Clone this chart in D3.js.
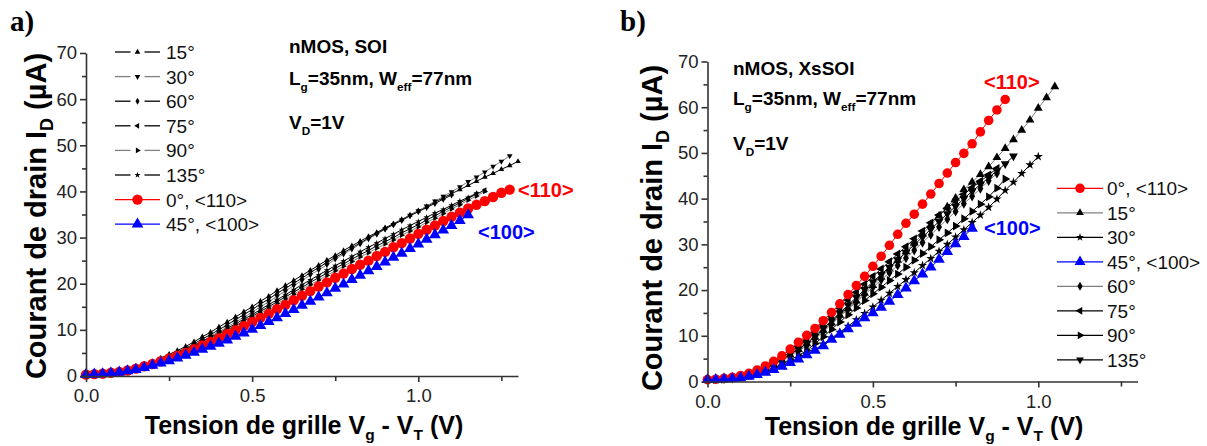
<!DOCTYPE html>
<html><head><meta charset="utf-8">
<script src="https://cdn.jsdelivr.net/npm/d3@7"></script>
<style>
body{margin:0;background:#fff;}
svg{display:block;background:#fff;}
</style></head>
<body><svg id="chart" width="1207" height="446"></svg>
<script>
// ---------------- DATA ----------------
const STEP = 0.025; // V spacing of measured points (Vg - VT), starting at 0

// Panel a) SOI
const a_0deg   = [0.3,0.4,0.5,0.7,0.9,1.2,1.6,2.1,2.6,3.2,3.8,4.4,5.0,5.8,6.6,7.4,8.2,9.1,9.9,10.8,11.7,12.6,13.5,14.5,15.4,16.4,17.4,18.4,19.4,20.3,21.3,22.2,23.2,24.1,25.0,26.0,26.9,27.9,28.8,29.8,30.8,31.7,32.6,33.6,34.5,35.4,36.3,37.1,37.9,38.8,39.7,40.4];
const a_45deg  = [0.3,0.35,0.45,0.6,0.8,1.1,1.4,1.8,2.3,2.8,3.3,3.9,4.5,5.1,5.8,6.4,7.1,7.8,8.6,9.3,10.1,10.9,11.8,12.6,13.5,14.4,15.3,16.2,17.1,18.0,19.0,19.9,20.9,21.8,22.8,23.7,24.7,25.7,26.6,27.6,28.6,29.6,30.6,31.6,32.6,33.7,34.9];
const a_15deg  = [0.3,0.4,0.5,0.7,1.0,1.4,1.9,2.5,3.1,3.9,4.7,5.5,6.4,7.4,8.5,9.5,10.6,11.7,12.8,13.9,15.0,16.2,17.3,18.5,19.6,20.7,21.8,22.9,24.0,25.1,26.1,27.2,28.2,29.2,30.2,31.1,32.1,33.0,33.9,34.9,35.8,36.7,37.7,38.6,39.5,40.4,41.3,42.2,43.1,43.9,44.8,45.6,46.5];
const a_30deg  = [0.3,0.4,0.5,0.7,0.9,1.3,1.7,2.2,2.8,3.5,4.2,5.0,5.8,6.7,7.6,8.6,9.6,10.6,11.7,12.7,13.8,15.0,16.1,17.3,18.4,19.6,20.7,21.9,23.0,24.1,25.3,26.4,27.5,28.6,29.7,30.7,31.8,32.8,33.8,34.8,35.8,36.8,37.9,38.9,39.9,41.0,42.1,43.1,44.2,45.4,46.5,47.7];
const a_60deg  = [0.3,0.4,0.5,0.7,0.9,1.3,1.8,2.3,2.9,3.6,4.4,5.2,6.0,7.0,8.0,9.0,10.0,11.1,12.2,13.3,14.4,15.6,16.7,17.9,19.0,20.1,21.2,22.4,23.5,24.6,25.7,26.7,27.8,28.8,29.9,30.9,31.9,32.8,33.7,34.7,35.6,36.5,37.4,38.3,39.2];
const a_75deg  = [0.3,0.4,0.5,0.7,0.9,1.3,1.7,2.2,2.7,3.4,4.1,4.8,5.5,6.4,7.2,8.1,9.0,10.0,10.9,11.9,12.9,14.0,15.0,16.1,17.1,18.2,19.2,20.3,21.3,22.3,23.3,24.3,25.3,26.3,27.2,28.2,29.1,30.0,31.0,31.9,32.8,33.8,34.7,35.7,36.6,37.5,38.5,39.4,40.3];
const a_90deg  = [0.3,0.4,0.5,0.7,0.9,1.2,1.6,2.1,2.7,3.3,4.0,4.7,5.4,6.2,7.0,7.9,8.8,9.7,10.7,11.6,12.6,13.6,14.7,15.7,16.7,17.7,18.8,19.8,20.8,21.8,22.8,23.8,24.8,25.8,26.7,27.7,28.6,29.5,30.5,31.4,32.3,33.3,34.2,35.2,36.2,37.1,38.1,39.0,40.0];
const a_135deg = [0.3,0.4,0.5,0.7,0.9,1.3,1.7,2.2,2.8,3.5,4.2,4.9,5.7,6.6,7.5,8.4,9.3,10.3,11.3,12.3,13.3,14.4,15.5,16.5,17.6,18.7,19.8,20.8,21.9,22.9,23.9,24.9,25.9,26.9,27.9,28.8,29.8,30.7,31.7,32.6,33.5,34.4,35.3,36.1,37.0,37.9,38.7,39.6];

// Panel b) XsSOI
const b_0deg   = [0.4,0.5,0.7,0.9,1.3,1.8,2.5,3.4,4.4,5.6,7.1,8.6,10.1,11.6,13.3,15.1,17.0,19.0,21.0,23.0,25.2,27.4,29.8,32.2,34.6,36.6,38.8,41.0,43.3,45.6,47.9,49.9,52.0,54.6,57.1,59.4,61.7];
const b_15deg  = [0.4,0.5,0.6,0.8,1.1,1.5,2.1,2.8,3.7,4.7,5.8,7.0,8.3,9.7,11.2,12.8,14.5,16.0,17.6,19.3,21.0,22.8,24.6,26.5,28.4,30.3,32.2,34.2,36.2,38.2,40.1,42.0,43.6,45.3,47.0,49.0,51.0,52.9,55.0,57.2,59.8,62.1,64.5];
const b_30deg  = [0.4,0.4,0.5,0.6,0.8,1.1,1.5,2.1,2.7,3.4,4.2,5.0,5.9,7.0,8.2,9.5,10.8,12.1,13.5,14.9,16.3,17.8,19.3,20.8,22.3,23.8,25.4,26.9,28.5,30.0,31.6,33.2,34.8,36.4,38.1,39.9,41.8,43.6,45.5,47.4,49.2];
const b_45deg  = [0.4,0.4,0.5,0.6,0.8,1.1,1.5,2.0,2.6,3.3,4.1,4.9,5.8,6.8,7.8,9.2,10.3,11.5,12.7,13.9,15.0,16.2,17.5,19.0,20.4,22.0,23.5,25.0,26.7,28.4,30.1,31.7,33.5];
const b_60deg  = [0.4,0.5,0.6,0.7,1.0,1.4,1.9,2.6,3.5,4.5,5.6,6.7,7.8,9.3,10.9,12.5,14.2,15.8,17.4,19.0,20.6,22.2,23.8,25.4,27.0,28.7,30.4,32.1,33.8,35.5,37.2,38.9,40.5,42.2,43.9,45.5];
const b_75deg  = [0.4,0.5,0.6,0.8,1.2,1.7,2.4,3.2,4.1,5.2,6.4,7.7,9.0,10.7,12.4,14.2,16.0,17.8,19.5,21.3,23.0,24.6,26.2,27.9,29.5,31.2,32.9,34.7,36.4,37.9,39.4,40.9,42.4,43.8,45.2,46.6];
const b_90deg  = [0.4,0.4,0.5,0.7,0.9,1.3,1.8,2.4,3.0,3.8,4.7,5.7,6.8,8.3,9.8,11.4,13.0,14.6,16.1,17.7,19.2,20.6,22.1,23.5,25.0,26.5,28.0,29.5,31.0,32.5,34.0,35.6,37.2,38.8,40.4,42.3,44.3];
const b_135deg = [0.4,0.5,0.6,0.8,1.1,1.5,2.1,2.9,3.8,4.9,6.0,7.1,8.3,9.9,11.6,13.3,15.0,16.7,18.4,20.1,21.8,23.4,25.0,26.6,28.2,29.9,31.6,33.3,35.0,36.7,38.3,40.0,41.6,43.1,44.6,46.1,47.6,49.3];

// Axis ticks
const xMajorTicks = [0, 0.5, 1.0];
const xTickLabels = ["0.0", "0.5", "1.0"];
const xMinorTicks = [0.25, 0.75, 1.25];
const yMajorTicks = [0, 10, 20, 30, 40, 50, 60, 70];
const yTickLabels = ["0", "10", "20", "30", "40", "50", "60", "70"];
const yMinorTicks = [5, 15, 25, 35, 45, 55, 65];
const xDomain = [0, 1.3];
const yDomain = [0, 70];

// Legend names (order as in each legend)
const namesA = ["15°", "30°", "60°", "75°", "90°", "135°", "0°, <110>", "45°, <100>"];
const valuesA = [a_15deg, a_30deg, a_60deg, a_75deg, a_90deg, a_135deg, a_0deg, a_45deg];
const namesB = ["0°, <110>", "15°", "30°", "45°, <100>", "60°", "75°", "90°", "135°"];
const valuesB = [b_0deg, b_15deg, b_30deg, b_45deg, b_60deg, b_75deg, b_90deg, b_135deg];

// ---------------- STYLE ----------------
const SANS = "'Liberation Sans', Arial, Helvetica, sans-serif";
const SERIF = "'Liberation Serif', 'Times New Roman', serif";
const RED = "#ff0000", BLUE = "#0000ff", BLK = "#000000", GRY = "#808080";
const stylesA = [
  {sym:"up", line:BLK, fill:BLK, size:14, leg:14},
  {sym:"down", line:GRY, fill:BLK, size:14, leg:14},
  {sym:"diamond", line:BLK, fill:BLK, size:14, leg:14},
  {sym:"left", line:BLK, fill:BLK, size:14, leg:14},
  {sym:"right", line:GRY, fill:BLK, size:14, leg:14},
  {sym:"star", line:BLK, fill:BLK, size:12, leg:12},
  {sym:"circle", line:RED, fill:RED, size:85, leg:85, full:true},
  {sym:"up", line:BLUE, fill:BLUE, size:60, leg:60, full:true}
];
const stylesB = [
  {sym:"circle", line:RED, fill:RED, size:72, leg:72},
  {sym:"up", line:GRY, fill:BLK, size:34, leg:26},
  {sym:"star", line:BLK, fill:BLK, size:26, leg:20},
  {sym:"up", line:BLUE, fill:BLUE, size:58, leg:50},
  {sym:"diamond", line:GRY, fill:BLK, size:30, leg:24},
  {sym:"left", line:BLK, fill:BLK, size:34, leg:26},
  {sym:"right", line:BLK, fill:BLK, size:34, leg:26},
  {sym:"down", line:BLK, fill:BLK, size:34, leg:26}
];
const drawOrderA = [0,1,2,3,4,5,6,7];
const drawOrderB = [1,2,4,5,6,7,0,3];

const svg = d3.select("#chart");
svg.append("rect").attr("width",1207).attr("height",446).attr("fill","#fff");

function symPath(s, size){
  const map = {up:d3.symbolTriangle, down:d3.symbolTriangle, left:d3.symbolTriangle, right:d3.symbolTriangle,
    diamond:d3.symbolDiamond, star:d3.symbolStar, circle:d3.symbolCircle};
  return d3.symbol().type(map[s]).size(size)();
}
const rot = {up:0, down:180, left:-90, right:90, diamond:0, star:0, circle:0};

function rich(g, x, y, parts, size, weight, fill, anchor, subShift){
  const sh = subShift || 0.3;
  const t = g.append("text").attr("x",x).attr("y",y).style("font-size",size+"px")
    .style("font-family",SANS).style("font-weight",weight).attr("fill",fill).attr("text-anchor",anchor||"start");
  let shifted = false;
  parts.forEach(p=>{
    const sub = p[1];
    const ts = t.append("tspan").text(p[0]);
    if(sub){ ts.style("font-size",(size*0.62)+"px"); }
    if(sub && !shifted){ ts.attr("dy", size*sh); shifted=true; }
    else if(!sub && shifted){ ts.attr("dy", -size*sh); shifted=false; }
  });
  return t;
}

function drawPanel(cfg){
  const g = svg.append("g");
  const x = d3.scaleLinear().domain(xDomain).range([cfg.left, cfg.right]);
  const y = d3.scaleLinear().domain(yDomain).range([cfg.bottom, cfg.top]);

  // series
  cfg.order.forEach(i=>{
    const vals = cfg.values[i], st = cfg.styles[i];
    const pts = vals.map((v,k)=>[k*STEP, v]);
    g.append("path").datum(pts).attr("fill","none").attr("stroke",st.line).attr("stroke-width",1)
      .attr("d", d3.line().x(d=>x(d[0])).y(d=>y(d[1])));
    g.selectAll(null).data(pts).enter().append("path")
      .attr("d", symPath(st.sym, st.size)).attr("fill", st.fill)
      .attr("transform", d=>`translate(${x(d[0])},${y(d[1])}) rotate(${rot[st.sym]})`);
  });

  // axes
  const axStyle = sel=>{
    sel.select(".domain").attr("stroke","#333").attr("stroke-width",1.6);
    sel.selectAll(".tick line").attr("stroke","#333").attr("stroke-width",1.6);
    sel.selectAll(".tick text").style("font-size",cfg.tickFont+"px").attr("fill","#222")
      .style("font-family",SANS);
  };
  g.append("g").attr("transform",`translate(0,${cfg.bottom})`)
    .call(d3.axisBottom(x).tickValues(xMinorTicks).tickSize(5).tickFormat(()=>"").tickSizeOuter(0))
    .call(s=>s.select(".domain").remove()).call(axStyle);
  g.append("g").attr("transform",`translate(${cfg.left},0)`)
    .call(d3.axisLeft(y).tickValues(yMinorTicks).tickSize(4).tickFormat(()=>"").tickSizeOuter(0))
    .call(s=>s.select(".domain").remove()).call(axStyle);
  g.append("g").attr("transform",`translate(0,${cfg.bottom})`)
    .call(d3.axisBottom(x).tickValues(xMajorTicks).tickFormat((d,i)=>xTickLabels[i]).tickSize(6).tickPadding(7).tickSizeOuter(0))
    .call(axStyle);
  g.append("g").attr("transform",`translate(${cfg.left},0)`)
    .call(d3.axisLeft(y).tickValues(yMajorTicks).tickFormat((d,i)=>yTickLabels[i]).tickSize(6).tickPadding(3).tickSizeOuter(0))
    .call(axStyle);

  // axis titles
  rich(g, cfg.xTitle[0], cfg.xTitle[1], [["Tension de grille V",0],["g",1],[" - V",0],["T",1],[" (V)",0]], cfg.xTitleFont, "bold", "#000", "middle", 0.24);
  const yt = rich(g, 0, 0, [["Courant de drain I",0],["D",1],[" (µA)",0]], cfg.yTitleFont, "bold", "#000", "middle", 0.24);
  yt.attr("transform", `translate(${cfg.yTitle[0]},${cfg.yTitle[1]}) rotate(-90)`);

  // panel letter
  g.append("text").attr("x",cfg.letter[0]).attr("y",cfg.letter[1]).text(cfg.letterText)
    .style("font-family",SERIF).style("font-weight","bold").style("font-size","29px");

  // annotations
  rich(g, cfg.ann[0], cfg.annY[0], [[cfg.annTitle,0]], 19, "bold", "#000");
  rich(g, cfg.ann[0], cfg.annY[1], [["L",0],["g",1],["=35nm, W",0],["eff",1],["=77nm",0]], 19, "bold", "#000");
  rich(g, cfg.ann[0], cfg.annY[2], [["V",0],["D",1],["=1V",0]], 19, "bold", "#000");
  rich(g, cfg.lbl110[0], cfg.lbl110[1], [["<110>",0]], 20, "bold", RED);
  rich(g, cfg.lbl100[0], cfg.lbl100[1], [["<100>",0]], 20, "bold", BLUE);

  // legend
  const L = cfg.legend;
  cfg.names.forEach((nm,i)=>{
    const st = cfg.styles[i];
    const yy = L.y0 + i*L.dy;
    if (L.gap && !st.full){
      g.append("line").attr("x1",L.x1).attr("x2",L.xm-7).attr("y1",yy).attr("y2",yy).attr("stroke",st.line).attr("stroke-width",1.3);
      g.append("line").attr("x1",L.xm+7).attr("x2",L.x2).attr("y1",yy).attr("y2",yy).attr("stroke",st.line).attr("stroke-width",1.3);
    } else {
      g.append("line").attr("x1",L.x1).attr("x2",L.x2).attr("y1",yy).attr("y2",yy).attr("stroke",st.line).attr("stroke-width",1.3);
    }
    g.append("path").attr("d", symPath(st.sym, st.leg)).attr("fill", st.fill)
      .attr("transform", `translate(${L.xm},${yy}) rotate(${rot[st.sym]})`);
    g.append("text").attr("x",L.tx).attr("y",yy+7).text(nm).style("font-size",L.font+"px")
      .style("font-family",SANS).attr("fill","#111");
  });
}

drawPanel({
  left:86, right:518, top:53, bottom:376,
  values:valuesA, styles:stylesA, names:namesA, order:drawOrderA,
  tickFont:18.5, xTitleFont:25, yTitleFont:29,
  xTitle:[304, 434], yTitle:[46, 216],
  letter:[10, 31], letterText:"a)",
  ann:[289], annY:[53, 85, 129], annTitle:"nMOS, SOI",
  lbl110:[518, 197], lbl100:[478, 239],
  legend:{x1:115, x2:160, xm:137.5, tx:166, y0:52, dy:24.6, font:19, gap:true}
});
drawPanel({
  left:707.5, right:1137.5, top:61.5, bottom:381.5,
  values:valuesB, styles:stylesB, names:namesB, order:drawOrderB,
  tickFont:18.5, xTitleFont:25, yTitleFont:29,
  xTitle:[924, 435], yTitle:[662, 228],
  letter:[620, 31], letterText:"b)",
  ann:[733], annY:[75, 105, 150], annTitle:"nMOS, XsSOI",
  lbl110:[984, 89], lbl100:[984, 235],
  legend:{x1:1057, x2:1103, xm:1080, tx:1107, y0:188.3, dy:24.5, font:19, gap:false}
});
</script></body></html>
